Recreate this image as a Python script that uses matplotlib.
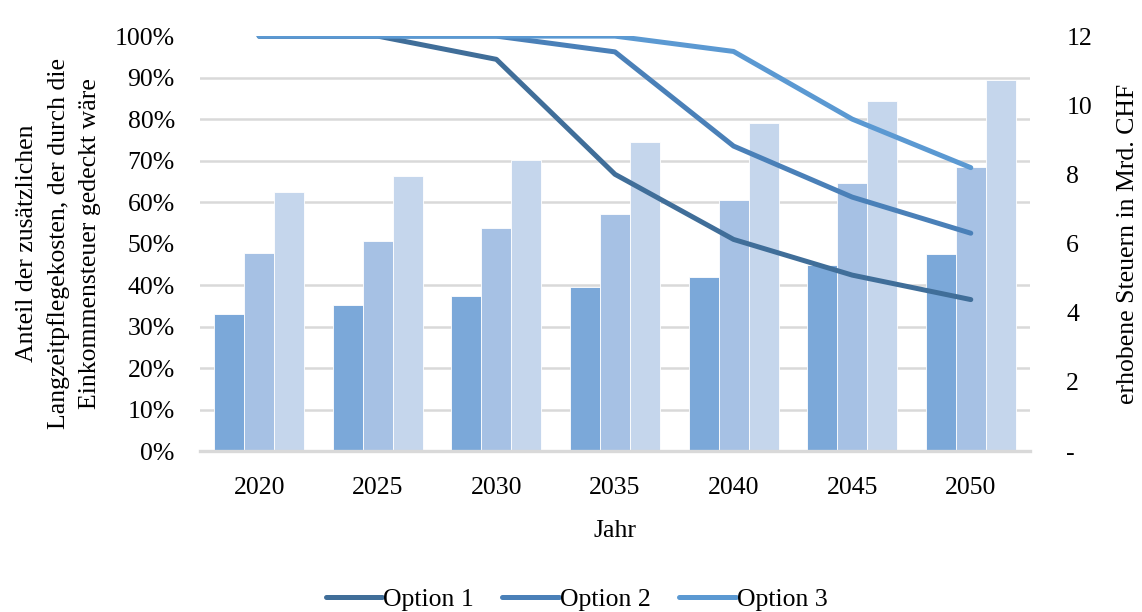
import numpy as np
import matplotlib
matplotlib.use('Agg')
import matplotlib.pyplot as plt
from matplotlib.ticker import MultipleLocator, FixedLocator, FuncFormatter

# ===== 数据 =====
years = ['2020', '2025', '2030', '2035', '2040', '2045', '2050']
options = ['Option 1', 'Option 2', 'Option 3']

# Anteil gedeckt (linke Achse, %)
share_opt1 = [100, 100, 94.4, 66.7, 51.0, 42.4, 36.5]
share_opt2 = [100, 100, 100, 96.2, 73.5, 61.2, 52.5]
share_opt3 = [100, 100, 100, 100, 96.3, 80.0, 68.3]

# erhobene Steuern (rechte Achse, Mrd. CHF)
tax_opt1 = [3.97, 4.22, 4.48, 4.75, 5.03, 5.38, 5.70]
tax_opt2 = [5.73, 6.08, 6.45, 6.85, 7.27, 7.75, 8.22]
tax_opt3 = [7.49, 7.95, 8.43, 8.95, 9.50, 10.12, 10.73]

line_colors = ['#406e99', '#4a80b8', '#5b99d2']
bar_colors = ['#7ba8d9', '#a6c1e4', '#c5d6ec']
grid_color = '#d9d9d9'

plt.rcParams['font.family'] = ['Liberation Serif', 'DejaVu Serif']
plt.rcParams['font.size'] = 18.5

fig = plt.figure(figsize=(11.42, 6.12), dpi=100)
ax2 = fig.add_axes([0.175, 0.263, 0.727, 0.678])  # Balken, rechte Achse
ax = ax2.twinx()  # Linien, Prozent
ax.set_zorder(2)
ax2.set_zorder(1)
ax.patch.set_visible(False)

x = np.arange(len(years))
w = 0.253

# ===== Balken =====
for i, vals in enumerate([tax_opt1, tax_opt2, tax_opt3]):
    ax2.bar(x + (i - 1) * w, vals, width=w, color=bar_colors[i],
            edgecolor='white', linewidth=0.6, zorder=2)

ax2.set_ylim(0, 12)
ax2.set_xlim(-0.5, len(years) - 0.5)
ax2.yaxis.set_major_locator(FixedLocator([0, 2, 4, 6, 8, 10, 12]))
ax2.yaxis.set_major_formatter(FuncFormatter(lambda v, p: '-' if v == 0 else f'{v:.0f}'))
ax2.yaxis.set_minor_locator(MultipleLocator(1.2))
ax2.grid(axis='y', which='minor', color=grid_color, linewidth=1.8, zorder=0)
ax2.set_axisbelow(True)
ax2.yaxis.tick_right()
ax2.yaxis.set_label_position('right')
ax2.tick_params(axis='y', which='both', length=0, pad=26)
ax2.set_ylabel('erhobene Steuern in Mrd. CHF', labelpad=18)

ax2.set_xticks(x)
ax2.set_xticklabels(years)
ax2.tick_params(axis='x', length=0, pad=19)
ax2.set_xlabel('Jahr', labelpad=15)

for s in ['top', 'left', 'right']:
    ax2.spines[s].set_visible(False)
ax2.spines['bottom'].set_color(grid_color)
ax2.spines['bottom'].set_linewidth(2.4)
ax2.spines['bottom'].set_zorder(3)

# ===== Linien =====
for i, vals in enumerate([share_opt1, share_opt2, share_opt3]):
    ax.plot(x, np.array(vals) / 100, color=line_colors[i], linewidth=3.6,
            solid_capstyle='round', solid_joinstyle='round', label=options[i])

ax.set_ylim(0, 1)
ax.yaxis.tick_left()
ax.yaxis.set_label_position('left')
ax.yaxis.set_major_locator(MultipleLocator(0.1))
ax.yaxis.set_major_formatter(FuncFormatter(lambda v, p: f'{v * 100:.0f}%'))
ax.tick_params(axis='y', length=0, pad=18)
ax.set_ylabel('Anteil der zusätzlichen\nLangzeitpflegekosten, der durch die\nEinkommensteuer gedeckt wäre',
              linespacing=1.5, labelpad=10)
for s in ['top', 'left', 'right', 'bottom']:
    ax.spines[s].set_visible(False)

handles, labels = ax.get_legend_handles_labels()
fig.legend(handles, labels, loc='center', bbox_to_anchor=(0.505, 0.02), ncol=3,
           frameon=False, handlelength=2.2, handletextpad=0.05,
           columnspacing=1.1, borderaxespad=0)

fig.savefig('out.png', dpi=100)
